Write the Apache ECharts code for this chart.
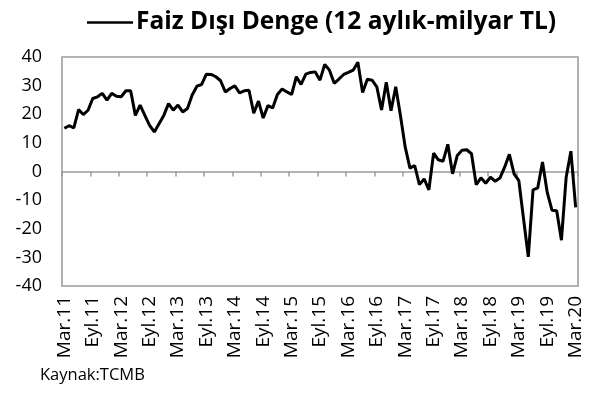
<!DOCTYPE html>
<html>
<head>
<meta charset="utf-8">
<script src="https://cdn.jsdelivr.net/npm/echarts@6/dist/echarts.min.js"></script>
<style>
html,body{margin:0;padding:0;background:#fff;}
#chart{width:602px;height:405px;}
</style>
</head>
<body>
<div id="chart"></div>
<script>
// Month names (Turkish) and years for the category axis
var monthNames = ["Oca","Şub","Mar","Nis","May","Haz","Tem","Ağu","Eyl","Eki","Kas","Ara"];
var startYear = 2011, startMonth = 2; // Mar.11
var monthCount = 109;                 // Mar.11 .. Mar.20
var categories = [];
for (var k = 0; k < monthCount; k++) {
  var m = (startMonth + k) % 12;
  var y = startYear + Math.floor((startMonth + k) / 12);
  categories.push(monthNames[m] + "." + String(y).slice(2));
}

var seriesName = "Faiz Dışı Denge (12 aylık-milyar TL)";
var values = [
  15.1, 16.0, 15.2, 21.6, 19.9, 21.4, 25.5, 26.1, 27.3, 24.9, 27.3, 26.3,
  26.1, 28.2, 28.2, 19.6, 23.2, 19.6, 16.1, 13.8, 16.7, 19.6, 23.7, 21.4,
  23.2, 20.8, 22.0, 26.7, 29.8, 30.4, 34.0, 33.9, 33.1, 31.7, 27.8, 29.0,
  29.9, 27.5, 28.2, 28.4, 20.4, 24.6, 18.7, 23.0, 22.2, 26.9, 28.8, 27.8,
  26.9, 33.1, 30.4, 34.0, 34.6, 34.8, 31.9, 37.4, 35.4, 30.8, 32.3, 33.9,
  34.6, 35.4, 38.2, 27.6, 32.2, 31.9, 29.6, 21.5, 31.2, 21.2, 29.6, 19.5,
  8.5, 1.2, 2.1, -4.6, -2.6, -6.4, 6.4, 4.1, 3.6, 9.5, -0.8, 5.6,
  7.4, 7.6, 6.2, -4.6, -2.2, -4.1, -2.0, -3.4, -2.3, 1.5, 6.0, -0.8,
  -3.2, -16.6, -29.8, -6.4, -5.7, 3.3, -7.3, -13.5, -13.7, -24.0, -2.0, 7.1,
  -12.5
];
var yMin = -40, yMax = 40, yStep = 10;
var sourceText = "Kaynak:TCMB";

var FONT = "Open Sans";
var chart = echarts.init(document.getElementById("chart"), null, {renderer: "canvas"});
chart.setOption({
  animation: false,
  backgroundColor: "#ffffff",
  legend: {
    data: [{name: seriesName, icon: "rect"}],
    left: 82,
    top: 5,
    itemWidth: 46,
    itemHeight: 2.5,
    itemGap: 10,
    itemStyle: {color: "#000", borderWidth: 0},
    textStyle: {fontFamily: FONT, fontWeight: "bold", fontSize: 24.5, color: "#000", padding: [0, 0, 0, -2]}
  },
  grid: {
    left: 62, right: 24, top: 57, bottom: 119,
    show: true, borderColor: "#9a9a9a", borderWidth: 1.5,
    containLabel: false
  },
  xAxis: [
    {
      type: "category",
      data: categories,
      position: "bottom",
      boundaryGap: true,
      axisLine: {show: false, onZero: false},
      axisTick: {show: false},
      splitLine: {show: false},
      axisLabel: {
        interval: 5, rotate: 90, margin: 10,
        fontFamily: FONT, fontSize: 19, color: "#000"
      }
    },
    {
      type: "category",
      data: categories,
      position: "top",
      boundaryGap: true,
      axisLine: {show: true, onZero: true, lineStyle: {color: "#9a9a9a", width: 1.5}},
      axisTick: {show: true, inside: true, interval: 5, length: 5, lineStyle: {color: "#9a9a9a", width: 1.5}},
      axisLabel: {show: false},
      splitLine: {show: false}
    }
  ],
  yAxis: {
    type: "value",
    min: yMin, max: yMax, interval: yStep,
    axisLine: {show: false},
    axisTick: {show: false},
    splitLine: {show: false},
    axisLabel: {fontFamily: FONT, fontSize: 18, color: "#000", margin: 20}
  },
  graphic: [
    {
      type: "text", left: 40, top: 367,
      style: {text: sourceText, font: "16.5px '" + FONT + "'", fill: "#000"}
    }
  ],
  series: [
    {
      name: seriesName,
      type: "line",
      xAxisIndex: 0,
      data: values,
      symbol: "none",
      lineStyle: {color: "#000", width: 3},
      itemStyle: {color: "#000"}
    }
  ]
});
</script>
</body>
</html>
